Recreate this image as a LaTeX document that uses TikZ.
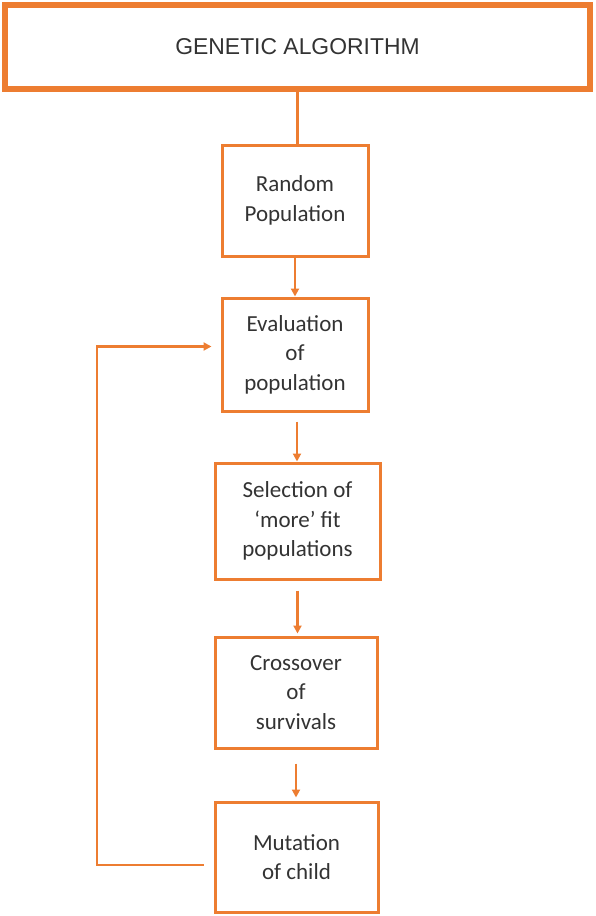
\documentclass[tikz,border=0pt]{standalone}
\usepackage{fontspec}
\usetikzlibrary{arrows.meta}
\newfontfamily\boxfont{Carlito}
\newfontfamily\titlefont{Liberation Sans}
\definecolor{gaorange}{HTML}{ED7D31}
\begin{document}
\begin{tikzpicture}[x=1pt,y=-1pt,
  box/.style={draw=gaorange,line width=3pt,align=center,text=black!80,
    font=\boxfont\fontsize{23}{29.5}\selectfont,inner sep=0pt},
  arr/.style={draw=gaorange,line width=2.2pt,-{Triangle[width=8pt,length=8pt]}}]
\useasboundingbox (0,0) rectangle (595,916);
\node[draw=gaorange,line width=6pt,minimum width=585pt,minimum height=84pt,
  text=black!80,font=\titlefont\fontsize{22.9}{26}\selectfont] (title) at (297.5,47) {GENETIC ALGORITHM};
\node[box,minimum width=146pt,minimum height=111pt] (rand) at (295,200.5) {Random\\Population};
\node[box,minimum width=146pt,minimum height=113pt] (eval) at (295,354.5) {Evaluation\\of\\population};
\node[box,minimum width=165pt,minimum height=116pt] (sel) at (297.5,521) {Selection of\\‘more’ fit\\populations};
\node[box,minimum width=162pt,minimum height=111pt] (cross) at (296,692.5) {Crossover\\of\\survivals};
\node[box,minimum width=163pt,minimum height=110pt] (mut) at (296.5,857) {Mutation\\of child};
% main line
\draw[draw=gaorange,line width=2.2pt] (title.south) -- (title.south |- rand.north);
\draw[arr] (rand.south) -- (eval.north);
\draw[arr] ([xshift=2pt,yshift=-9pt]eval.south) -- ([xshift=2pt]eval.south |- sel.north);
\draw[arr] ([yshift=-10pt]sel.south) -- ([yshift=2pt]sel.south |- cross.north);
\draw[arr] ([yshift=-14pt]cross.south) -- ([yshift=3pt]cross.south |- mut.north);
% loop back
\draw[arr] ([xshift=-10pt,yshift=-8pt]mut.west) -- (97,865) |- ([xshift=-9pt,yshift=8pt]eval.west);
\end{tikzpicture}
\end{document}
